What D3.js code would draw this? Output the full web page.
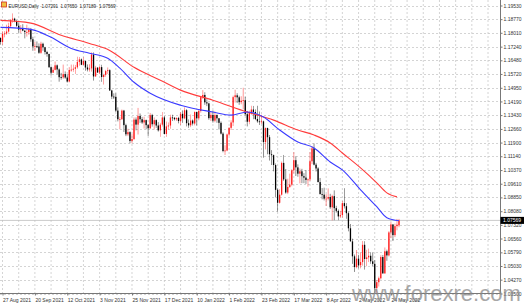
<!DOCTYPE html>
<html><head><meta charset="utf-8">
<script src="https://cdn.jsdelivr.net/npm/d3@7"></script>
<style>
html,body{margin:0;padding:0;background:#fff;}
svg{display:block;font-family:"Liberation Sans",Arial,sans-serif;}
</style></head>
<body>
<svg id="c" width="524" height="308"></svg>
<script>
// ---- DATA ----
const symbol = "EURUSD,Daily";
const header = ["1.07291", "1.07650", "1.07189", "1.07569"];
const firstDay = "2021-08-26", lastDay = "2022-05-30";
const open = [
1.1772,1.1750,1.1795,1.1797,1.1808,1.1838,1.1874,1.1880,1.1868,1.1840,1.1819,1.1826,1.1813,1.1805,1.1805,1.1820,1.1765,
1.1725,1.1727,1.1725,1.1690,1.1740,1.1720,1.1694,1.1683,1.1610,1.1579,1.1595,1.1620,1.1597,1.1554,1.1553,1.1571,1.1552,
1.1530,1.1594,1.1596,1.1601,1.1609,1.1639,1.1653,1.1623,1.1644,1.1608,1.1597,1.1603,1.1680,1.1558,1.1607,1.1580,1.1610,
1.1555,1.1567,1.1588,1.1593,1.1480,1.1446,1.1444,1.1368,1.1320,1.1320,1.1368,1.1287,1.1236,1.1248,1.1199,1.1210,1.1318,
1.1290,1.1338,1.1320,1.1302,1.1315,1.1287,1.1270,1.1343,1.1292,1.1315,1.1285,1.1258,1.1290,1.1330,1.1238,1.1280,1.1285,
1.1330,1.1328,1.1320,1.1327,1.1310,1.1350,1.1325,1.1370,1.1298,1.1286,1.1313,1.1296,1.1360,1.1325,1.1366,1.1443,1.1455,
1.1414,1.1408,1.1326,1.1344,1.1312,1.1343,1.1325,1.1300,1.1240,1.1143,1.1146,1.1235,1.1272,1.1302,1.1443,1.1453,1.1442,
1.1415,1.1423,1.1426,1.1348,1.1306,1.1358,1.1374,1.1360,1.1321,1.1308,1.1306,1.1308,1.1193,1.1271,1.1220,1.1125,1.1120,
1.1065,1.0927,1.0855,1.0900,1.1077,1.0985,1.0912,1.0943,1.0956,1.1036,1.1092,1.1052,1.1017,1.1030,1.1003,1.0995,1.0982,
1.0985,1.1086,1.1158,1.1067,1.1046,1.0970,1.0903,1.0900,1.0878,1.0878,1.0887,1.0830,1.0892,1.0825,1.0810,1.0779,1.0786,
1.0853,1.0836,1.0797,1.0713,1.0640,1.0557,1.0497,1.0544,1.0507,1.0525,1.0621,1.0542,1.0551,1.0560,1.0529,1.0515,1.0380,
1.0413,1.0435,1.0553,1.0462,1.0585,1.0562,1.0690,1.0734,1.0675,1.0725,1.07291];
const high = [
1.1776,1.1810,1.1810,1.1846,1.1857,1.1875,1.1909,1.1885,1.1870,1.1859,1.1844,1.1849,1.1815,1.1846,1.1830,1.1828,1.1779,
1.1750,1.1753,1.1742,1.1751,1.1746,1.1723,1.1701,1.1685,1.1614,1.1609,1.1641,1.1625,1.1603,1.1578,1.1624,1.1586,1.1571,
1.1610,1.1624,1.1624,1.1622,1.1668,1.1666,1.1658,1.1665,1.1646,1.1625,1.1626,1.1692,1.1692,1.1617,1.1610,1.1616,1.1623,
1.1573,1.1595,1.1608,1.1598,1.1484,1.1464,1.1464,1.1386,1.1333,1.1374,1.1372,1.1295,1.1267,1.1253,1.1237,1.1330,1.1330,
1.1383,1.1352,1.1333,1.1334,1.1318,1.1293,1.1355,1.1350,1.1330,1.1319,1.1304,1.1300,1.1360,1.1338,1.1307,1.1302,1.1345,
1.1345,1.1332,1.1330,1.1333,1.1360,1.1369,1.1386,1.1376,1.1319,1.1346,1.1319,1.1364,1.1363,1.1375,1.1450,1.1482,1.1470,
1.1431,1.1412,1.1357,1.1369,1.1363,1.1347,1.1327,1.1308,1.1248,1.1175,1.1240,1.1275,1.1314,1.1451,1.1484,1.1465,1.1451,
1.1448,1.1495,1.1445,1.1366,1.1368,1.1395,1.1394,1.1375,1.1395,1.1363,1.1345,1.1312,1.1274,1.1273,1.1232,1.1148,1.1123,
1.1074,1.0934,1.0930,1.1085,1.1121,1.1043,1.0989,1.1017,1.1042,1.1137,1.1114,1.1069,1.1046,1.1044,1.1020,1.1037,1.0990,
1.1137,1.1170,1.1185,1.1077,1.1053,1.0993,1.0937,1.0939,1.0903,1.0935,1.0905,1.0900,1.0924,1.0838,1.0818,1.0810,1.0865,
1.0936,1.0853,1.0806,1.0737,1.0655,1.0567,1.0592,1.0565,1.0577,1.0642,1.0641,1.0593,1.0600,1.0580,1.0577,1.0536,1.0425,
1.0444,1.0563,1.0564,1.0606,1.0594,1.0697,1.0748,1.0737,1.0739,1.0765,1.07650];
const low = [
1.1735,1.1734,1.1776,1.1790,1.1802,1.1829,1.1857,1.1860,1.1834,1.1802,1.1800,1.1810,1.1770,1.1780,1.1790,1.1751,1.1701,
1.1700,1.1716,1.1684,1.1684,1.1701,1.1680,1.1668,1.1605,1.1563,1.1578,1.1592,1.1570,1.1529,1.1540,1.1545,1.1545,1.1524,
1.1525,1.1585,1.1584,1.1572,1.1601,1.1618,1.1621,1.1620,1.1590,1.1586,1.1585,1.1585,1.1535,1.1557,1.1578,1.1571,1.1528,
1.1513,1.1556,1.1572,1.1478,1.1432,1.1432,1.1360,1.1308,1.1264,1.1317,1.1249,1.1226,1.1226,1.1186,1.1186,1.1204,1.1258,
1.1235,1.1300,1.1294,1.1268,1.1264,1.1227,1.1265,1.1279,1.1263,1.1272,1.1251,1.1222,1.1279,1.1235,1.1222,1.1262,1.1267,
1.1310,1.1313,1.1311,1.1297,1.1288,1.1300,1.1320,1.1280,1.1272,1.1276,1.1285,1.1286,1.1285,1.1314,1.1357,1.1432,1.1400,
1.1393,1.1317,1.1310,1.1301,1.1303,1.1300,1.1263,1.1235,1.1136,1.1121,1.1142,1.1227,1.1260,1.1282,1.1413,1.1410,1.1400,
1.1403,1.1375,1.1340,1.1280,1.1292,1.1345,1.1320,1.1315,1.1300,1.1288,1.1293,1.1106,1.1152,1.1125,1.1090,1.1065,1.1030,
1.0885,1.0806,1.0850,1.0895,1.0976,1.0905,1.0903,1.0938,1.0947,1.1018,1.1004,1.1000,1.0963,1.0964,1.0964,1.0960,1.0945,
1.0976,1.1070,1.1063,1.1029,1.0969,1.0902,1.0874,1.0868,1.0837,1.0868,1.0821,1.0757,1.0758,1.0800,1.0758,1.0770,1.0772,
1.0823,1.0766,1.0696,1.0640,1.0515,1.0470,1.0490,1.0490,1.0490,1.0505,1.0483,1.0502,1.0525,1.0515,1.0502,1.0354,1.0349,
1.0389,1.0428,1.0460,1.0460,1.0532,1.0556,1.0658,1.0642,1.0664,1.0702,1.07189];
const close = [
1.1750,1.1795,1.1797,1.1808,1.1838,1.1874,1.1880,1.1868,1.1840,1.1819,1.1826,1.1813,1.1805,1.1805,1.1820,1.1765,1.1725,
1.1727,1.1725,1.1690,1.1740,1.1720,1.1694,1.1683,1.1610,1.1579,1.1595,1.1620,1.1597,1.1554,1.1553,1.1571,1.1552,1.1530,
1.1594,1.1596,1.1601,1.1609,1.1639,1.1653,1.1623,1.1644,1.1608,1.1597,1.1603,1.1680,1.1558,1.1607,1.1580,1.1610,1.1555,
1.1567,1.1588,1.1593,1.1480,1.1446,1.1444,1.1368,1.1320,1.1320,1.1368,1.1287,1.1236,1.1248,1.1199,1.1210,1.1318,1.1290,
1.1338,1.1320,1.1302,1.1315,1.1287,1.1270,1.1343,1.1292,1.1315,1.1285,1.1258,1.1290,1.1330,1.1238,1.1280,1.1285,1.1330,
1.1328,1.1320,1.1327,1.1310,1.1350,1.1325,1.1370,1.1298,1.1286,1.1313,1.1296,1.1360,1.1325,1.1366,1.1443,1.1455,1.1414,
1.1408,1.1326,1.1344,1.1312,1.1343,1.1325,1.1300,1.1240,1.1143,1.1146,1.1235,1.1272,1.1302,1.1443,1.1453,1.1442,1.1415,
1.1423,1.1426,1.1348,1.1306,1.1358,1.1374,1.1360,1.1321,1.1308,1.1306,1.1308,1.1193,1.1271,1.1220,1.1125,1.1120,1.1065,
1.0927,1.0855,1.0900,1.1077,1.0985,1.0912,1.0943,1.0956,1.1036,1.1092,1.1052,1.1017,1.1030,1.1003,1.0995,1.0982,1.0985,
1.1086,1.1158,1.1067,1.1046,1.0970,1.0903,1.0900,1.0878,1.0878,1.0887,1.0830,1.0892,1.0825,1.0810,1.0779,1.0786,1.0853,
1.0836,1.0797,1.0713,1.0640,1.0557,1.0497,1.0544,1.0507,1.0525,1.0621,1.0542,1.0551,1.0560,1.0529,1.0515,1.0380,1.0413,
1.0435,1.0553,1.0462,1.0585,1.0562,1.0690,1.0734,1.0675,1.0725,1.0733,1.07569];
// moving averages (bar index, value)
const blueBars = [0,15,25,35,44,53,59,66,74,89,105,114,122,130,138,147,155,163,169,178,186,191,197];
const blueVals = [1.1831,1.1820,1.1776,1.1714,1.1687,1.1659,1.1604,1.1526,1.1465,1.1398,1.1360,1.1343,1.1360,1.1332,1.1260,1.1193,1.1160,1.1082,1.1038,1.0927,1.0833,1.0772,1.0755];
const redBars = [0,15,30,44,54,66,79,89,105,122,135,147,155,163,169,178,186,191,196];
const redVals = [1.1870,1.1855,1.1787,1.1742,1.1703,1.1609,1.1537,1.1482,1.1426,1.1360,1.1315,1.1260,1.1232,1.1188,1.1132,1.1049,1.0966,1.0910,1.0888];
const yTicks = [1.19530,1.18770,1.18010,1.17240,1.16480,1.15720,1.14950,1.14190,1.13430,1.12660,1.11900,1.11140,1.10370,1.09610,1.08850,1.08080,1.07320,1.06560,1.05790,1.05030,1.04270,1.03500];
const watermark = "www.forexre.com";

// trading calendar (weekdays)
const parse = d3.utcParse("%Y-%m-%d");
const dates = d3.utcDay.range(parse(firstDay), d3.utcDay.offset(parse(lastDay), 1))
  .filter(d => d.getUTCDay() !== 0 && d.getUTCDay() !== 6);
const fmt = d3.utcFormat("%-d %b %Y");
const bars = close.map((c, i) => ({i, date: dates[i], o: open[i], h: high[i], l: low[i], c}));

// ---- LAYOUT ----
const svg = d3.select("#c");
const plotR = 500.5, plotB = 293.5;
const x = d3.scaleLinear().domain([0, 197]).range([0.5, 399]);
const y = d3.scaleLinear().domain([1.0350, 1.1953]).range([plotB, 5.5]);

// grid
const gridColor = "#c9c9c9";
svg.append("g").selectAll("line").data(yTicks).join("line")
  .attr("x1", 0).attr("x2", plotR).attr("y1", d => Math.round(y(d)) + 0.5).attr("y2", d => Math.round(y(d)) + 0.5)
  .attr("stroke", gridColor).attr("stroke-width", 0.8).attr("stroke-dasharray", "2,2");
const vGrid = d3.range(1, 250, 8);
svg.append("g").selectAll("line").data(vGrid).join("line")
  .attr("x1", d => x(d)).attr("x2", d => x(d)).attr("y1", 0).attr("y2", plotB)
  .attr("stroke", gridColor).attr("stroke-width", 0.8).attr("stroke-dasharray", "2,2")
  .attr("display", d => x(d) < plotR ? null : "none");

// bid line
const last = close[close.length - 1];
svg.append("line").attr("x1", 0).attr("x2", plotR)
  .attr("y1", y(last)).attr("y2", y(last)).attr("stroke", "#bdbdbd").attr("stroke-width", 0.8);

// candles
const bull = "#ff1a1a", bear = "#000";
const cg = svg.append("g");
cg.selectAll("line").data(bars).join("line")
  .attr("x1", d => x(d.i)).attr("x2", d => x(d.i))
  .attr("y1", d => y(d.h)).attr("y2", d => y(d.l))
  .attr("stroke", d => d.c >= d.o ? bull : bear).attr("stroke-width", 0.6).attr("opacity", 0.75);
cg.selectAll("rect").data(bars).join("rect")
  .attr("x", d => x(d.i) - 0.65).attr("width", 1.3)
  .attr("y", d => y(Math.max(d.o, d.c)))
  .attr("height", d => Math.max(0.8, Math.abs(y(d.o) - y(d.c))))
  .attr("fill", d => d.c >= d.o ? bull : bear);

// moving averages
const line = d3.line().x(d => x(d[0])).y(d => y(d[1])).curve(d3.curveMonotoneX);
svg.append("path").datum(redBars.map((b, k) => [b, redVals[k]])).attr("d", line)
  .attr("fill", "none").attr("stroke", "#ff3c3c").attr("stroke-width", 1.1);
svg.append("path").datum(blueBars.map((b, k) => [b, blueVals[k]])).attr("d", line)
  .attr("fill", "none").attr("stroke", "#3a3aff").attr("stroke-width", 1.1);

// axes
const fs = "5px";
const ya = svg.append("g").attr("transform", `translate(${plotR},0)`)
  .call(d3.axisRight(y).tickValues(yTicks).tickFormat(d3.format(".5f")).tickSize(2).tickPadding(1));
ya.select(".domain").attr("d", `M0,0V${plotB}`).attr("stroke", "#777");
ya.selectAll("text").attr("font-size", fs).attr("fill", "#333").attr("font-family", "Liberation Sans, Arial");
ya.selectAll(".tick line").attr("stroke", "#777");

const xTicks = d3.range(1, bars.length, 16);
const xa = svg.append("g").attr("transform", `translate(0,${plotB})`)
  .call(d3.axisBottom(x).tickValues(xTicks).tickFormat(i => fmt(dates[i])).tickSize(2).tickPadding(1));
xa.select(".domain").attr("d", `M0,0H${plotR}`).attr("stroke", "#777");
xa.selectAll(".tick line").attr("stroke", "#777");
xa.selectAll("text").attr("font-size", fs).attr("fill", "#333").attr("text-anchor", "start")
  .attr("font-family", "Liberation Sans, Arial").attr("dy", "1.1em");

// last price box
svg.append("rect").attr("x", plotR).attr("y", y(last) - 3.5).attr("width", 24).attr("height", 7).attr("fill", "#000");
svg.append("text").attr("x", plotR + 2.5).attr("y", y(last) + 1.8).attr("font-size", fs).attr("fill", "#fff")
  .text(d3.format(".5f")(last));

// header
svg.append("rect").attr("x", 1.5).attr("y", 2).attr("width", 5).attr("height", 5)
  .attr("fill", "#f0c040").attr("stroke", "#d03020").attr("stroke-width", 0.8);
svg.append("text").attr("x", 8.5).attr("y", 7.5).attr("font-size", "4.5px").attr("fill", "#222").text(symbol);
const hx = [41.5, 60.5, 79.5, 99];
header.forEach((t, k) => svg.append("text").attr("x", hx[k]).attr("y", 7.5).attr("font-size", "4.6px").attr("fill", "#222").text(t));

// watermark
svg.append("text").attr("x", 352).attr("y", 301).attr("font-size", "22px")
  .attr("font-family", "Liberation Sans, Arial").attr("fill", "#8a8a8a").attr("opacity", 0.75)
  .text(watermark);
</script>
</body></html>
